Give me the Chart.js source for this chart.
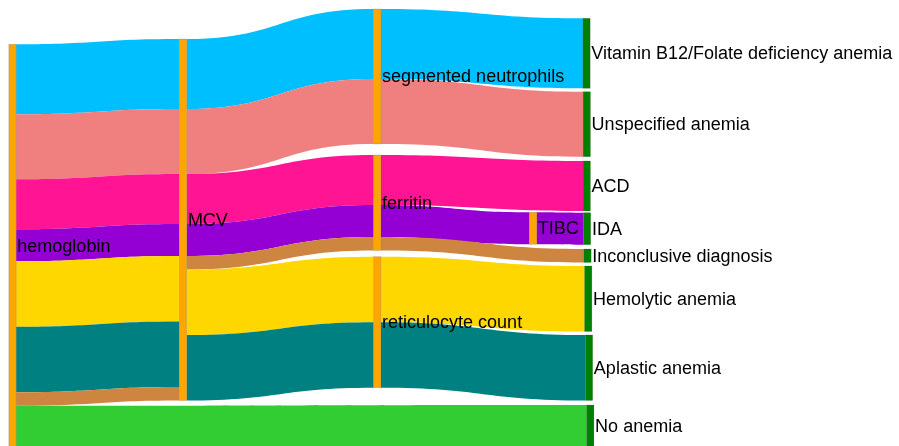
<!DOCTYPE html>
<html>
<head>
<meta charset="utf-8">
<script src="https://cdn.jsdelivr.net/npm/chart.js@4.4.1/dist/chart.umd.min.js"></script>
<style>
  html, body { margin: 0; padding: 0; background: #fff; }
  #wrap { width: 899px; height: 446px; }
</style>
</head>
<body>
<div id="wrap"><canvas id="myChart" width="899" height="446"></canvas></div>
<script>
// nodes
const nodeLabels = ['hemoglobin', 'MCV', 'segmented neutrophils', 'ferritin', 'reticulocyte count', 'TIBC',
  'Vitamin B12/Folate deficiency anemia', 'Unspecified anemia', 'ACD', 'IDA', 'Inconclusive diagnosis',
  'Hemolytic anemia', 'Aplastic anemia', 'No anemia'];

// links (index into nodeLabels)
const linkSource = [0, 0, 0, 0, 0, 0, 0, 0, 1, 1, 1, 1, 1, 1, 1, 2, 2, 3, 3, 3, 5, 4, 4];
const linkTarget = [1, 1, 1, 1, 1, 1, 1, 13, 2, 2, 3, 3, 3, 4, 4, 6, 7, 8, 5, 10, 9, 11, 12];
const linkValue = [70, 65, 50, 32, 65.5, 65.5, 13.5, 42, 70, 65, 50, 32, 13.5, 65.5, 65.5, 70, 65, 50, 32, 13.5, 32, 65.5, 65.5];

// styles and placement (plotly-style node.x / node.y, centre of node)
const linkColors = ['#00BFFF', '#F08080', '#FF1493', '#9400D3', '#FFD700', '#008080', '#CD853F', '#32CD32',
  '#00BFFF', '#F08080', '#FF1493', '#9400D3', '#CD853F', '#FFD700', '#008080',
  '#00BFFF', '#F08080', '#FF1493', '#9400D3', '#CD853F', '#9400D3', '#FFD700', '#008080'];
const nodeColors = ['#FFA500', '#FFA500', '#FFA500', '#FFA500', '#FFA500', '#FFA500',
  '#008000', '#008000', '#008000', '#008000', '#008000', '#008000', '#008000', '#008000'];
const nodeX = [0.0139, 0.2036, 0.4196, 0.4196, 0.4196, 0.5929,
  0.6524, 0.6527, 0.6527, 0.6530, 0.6535, 0.6543, 0.6552, 0.6566];
const nodeY = [0.5517, 0.4927, 0.1715, 0.4546, 0.7224, 0.5119,
  0.1195, 0.2785, 0.4170, 0.5128, 0.5734, 0.6698, 0.8245, 0.9552];
const Y_UNITS = 446;
const NODE_W = 0.0081;

const sankeyPlugin = {
  id: 'sankey',
  afterDatasetsDraw(chart) {
    const ctx = chart.ctx;
    const xs = chart.scales.x;
    const ys = chart.scales.y;

    // node sizes in value units
    const inSum = nodeLabels.map(() => 0);
    const outSum = nodeLabels.map(() => 0);
    linkValue.forEach((v, i) => {
      outSum[linkSource[i]] += v;
      inSum[linkTarget[i]] += v;
    });
    const nodes = nodeLabels.map((label, i) => {
      const value = Math.max(inSum[i], outSum[i]);
      const top = nodeY[i] * Y_UNITS - value / 2;
      return {
        label, value, top,
        x0: xs.getPixelForValue(nodeX[i] - NODE_W / 2),
        x1: xs.getPixelForValue(nodeX[i] + NODE_W / 2),
        y0: ys.getPixelForValue(top),
        y1: ys.getPixelForValue(top + value)
      };
    });

    // stack links on each node
    const idx = linkValue.map((v, i) => i);
    const outOff = {}, inOff = {};
    nodes.forEach((n, ni) => {
      let acc = n.top;
      idx.filter(i => linkSource[i] === ni)
        .sort((a, b) => (nodeY[linkTarget[a]] - nodeY[linkTarget[b]]) || (a - b))
        .forEach(i => { outOff[i] = acc; acc += linkValue[i]; });
      acc = n.top;
      idx.filter(i => linkTarget[i] === ni)
        .sort((a, b) => (nodeY[linkSource[a]] - nodeY[linkSource[b]]) || (a - b))
        .forEach(i => { inOff[i] = acc; acc += linkValue[i]; });
    });

    ctx.save();
    idx.forEach(i => {
      const s = nodes[linkSource[i]];
      const t = nodes[linkTarget[i]];
      const x0 = s.x1, x1 = t.x0, xm = (x0 + x1) / 2;
      const a0 = ys.getPixelForValue(outOff[i]);
      const a1 = ys.getPixelForValue(outOff[i] + linkValue[i]);
      const b0 = ys.getPixelForValue(inOff[i]);
      const b1 = ys.getPixelForValue(inOff[i] + linkValue[i]);
      ctx.beginPath();
      ctx.moveTo(x0, a0);
      ctx.bezierCurveTo(xm, a0, xm, b0, x1, b0);
      ctx.lineTo(x1, b1);
      ctx.bezierCurveTo(xm, b1, xm, a1, x0, a1);
      ctx.closePath();
      ctx.fillStyle = linkColors[i];
      ctx.fill();
    });

    nodes.forEach((n, i) => {
      ctx.fillStyle = nodeColors[i];
      ctx.fillRect(n.x0, n.y0, n.x1 - n.x0, n.y1 - n.y0);
      ctx.strokeStyle = 'rgba(68,68,68,0.35)';
      ctx.lineWidth = 0.5;
      ctx.strokeRect(n.x0, n.y0, n.x1 - n.x0, n.y1 - n.y0);
    });

    ctx.fillStyle = '#000';
    ctx.font = '18px "Liberation Sans", Arial, sans-serif';
    ctx.textAlign = 'left';
    ctx.textBaseline = 'middle';
    nodes.forEach(n => {
      ctx.fillText(n.label, n.x1 + 1.2, (n.y0 + n.y1) / 2 + 1);
    });
    ctx.restore();
  }
};

const ctx = document.getElementById('myChart').getContext('2d');
// eslint-disable-next-line no-undef
const chart = new Chart(ctx, {
  type: 'scatter',
  data: { datasets: [{ data: [] }] },
  options: {
    responsive: false,
    animation: false,
    devicePixelRatio: 1,
    layout: { padding: 0 },
    plugins: { legend: { display: false }, tooltip: { enabled: false } },
    scales: {
      x: { type: 'linear', min: 0, max: 1, display: false },
      y: { type: 'linear', min: 0, max: Y_UNITS, reverse: true, display: false }
    }
  },
  plugins: [sankeyPlugin]
});
</script>
</body>
</html>
